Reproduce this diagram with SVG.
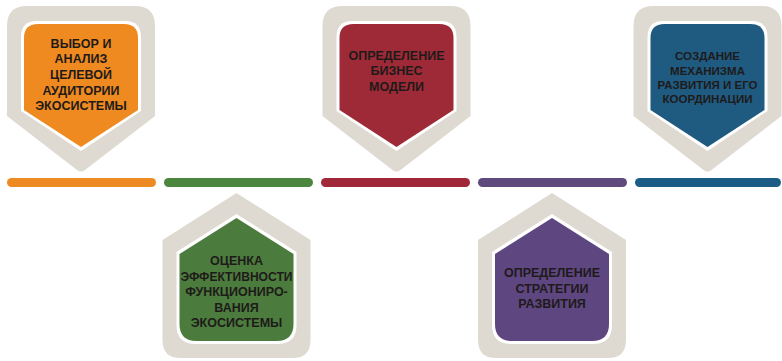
<svg xmlns="http://www.w3.org/2000/svg" width="782" height="361" viewBox="0 0 782 361">
<style>
.frame{fill:#DEDAD2}
.gap{fill:#FFFFFF}
.t{font-family:"Liberation Sans",Arial,sans-serif;font-weight:bold;font-size:12.5px;fill:#1E1A1A;text-anchor:middle}
.bar{stroke:none}
</style>
<defs>
<path id="down-frame" d="M-74,26 Q-74,6 -54,6 H54 Q74,6 74,26 V116 L4,170 Q0,173 -4,170 L-74,116 Z"/>
<path id="down-gap" d="M-60,37 Q-60,21 -44,21 H44 Q60,21 60,37 V111 L0,151 L-60,111 Z"/>
<path id="down-in" d="M-57,38 Q-57,24 -43,24 H43 Q57,24 57,38 V110 L0,147 L-57,110 Z"/>
<path id="up-frame" d="M0,193 L74,240 V340 Q74,358 56,358 H-56 Q-74,358 -74,340 V240 Z"/>
<path id="up-gap" d="M0,214 L60,252 V325 Q60,344 41,344 H-41 Q-60,344 -60,325 V252 Z"/>
<path id="up-in" d="M0,218 L57,254 V324 Q57,341 40,341 H-40 Q-57,341 -57,324 V254 Z"/>
</defs>
<g id="connectors">
<rect class="bar" x="7" y="178" width="149" height="9" rx="4.5" fill="#EE8A22"/>
<rect class="bar" x="164" y="178" width="149" height="9" rx="4.5" fill="#4C863E"/>
<rect class="bar" x="321" y="178" width="149" height="9" rx="4.5" fill="#A02839"/>
<rect class="bar" x="478" y="178" width="149" height="9" rx="4.5" fill="#5E4A7C"/>
<rect class="bar" x="635" y="178" width="146" height="9" rx="4.5" fill="#1C5D86"/>
</g>
<g id="node1" transform="translate(81,0)">
<use href="#down-frame" class="frame"/>
<use href="#down-gap" class="gap"/>
<use href="#down-in" fill="#EE8A1F"/>
<text class="t" x="0" y="47.5">ВЫБОР И</text>
<text class="t" x="0" y="63">АНАЛИЗ</text>
<text class="t" x="0" y="79">ЦЕЛЕВОЙ</text>
<text class="t" x="0" y="94.5">АУДИТОРИИ</text>
<text class="t" x="0" y="110">ЭКОСИСТЕМЫ</text>
</g>
<g id="node2" transform="translate(236.5,0)">
<use href="#up-frame" class="frame"/>
<use href="#up-gap" class="gap"/>
<use href="#up-in" fill="#4C7C3D"/>
<text class="t" x="0" y="265">ОЦЕНКА</text>
<text class="t" x="0" y="280.5" textLength="112" lengthAdjust="spacingAndGlyphs">ЭФФЕКТИВНОСТИ</text>
<text class="t" x="0" y="296">ФУНКЦИОНИРО-</text>
<text class="t" x="0" y="311.5">ВАНИЯ</text>
<text class="t" x="0" y="327">ЭКОСИСТЕМЫ</text>
</g>
<g id="node3" transform="translate(396.5,0)">
<use href="#down-frame" class="frame"/>
<use href="#down-gap" class="gap"/>
<use href="#down-in" fill="#9E2A37"/>
<text class="t" x="0" y="59.5">ОПРЕДЕЛЕНИЕ</text>
<text class="t" x="0" y="75">БИЗНЕС</text>
<text class="t" x="0" y="90.5">МОДЕЛИ</text>
</g>
<g id="node4" transform="translate(552,0)">
<use href="#up-frame" class="frame"/>
<use href="#up-gap" class="gap"/>
<use href="#up-in" fill="#5E4681"/>
<text class="t" x="0" y="276.5">ОПРЕДЕЛЕНИЕ</text>
<text class="t" x="0" y="292.5">СТРАТЕГИИ</text>
<text class="t" x="0" y="308">РАЗВИТИЯ</text>
</g>
<g id="node5" transform="translate(707.5,0)">
<use href="#down-frame" class="frame"/>
<use href="#down-gap" class="gap"/>
<use href="#down-in" fill="#1F5A81"/>
<text class="t" x="0" y="59.5" style="font-size:11.5px">СОЗДАНИЕ</text>
<text class="t" x="0" y="74.5" style="font-size:11.5px">МЕХАНИЗМА</text>
<text class="t" x="0" y="88.5" style="font-size:11.5px">РАЗВИТИЯ И ЕГО</text>
<text class="t" x="0" y="103" style="font-size:11.5px">КООРДИНАЦИИ</text>
</g>
</svg>
